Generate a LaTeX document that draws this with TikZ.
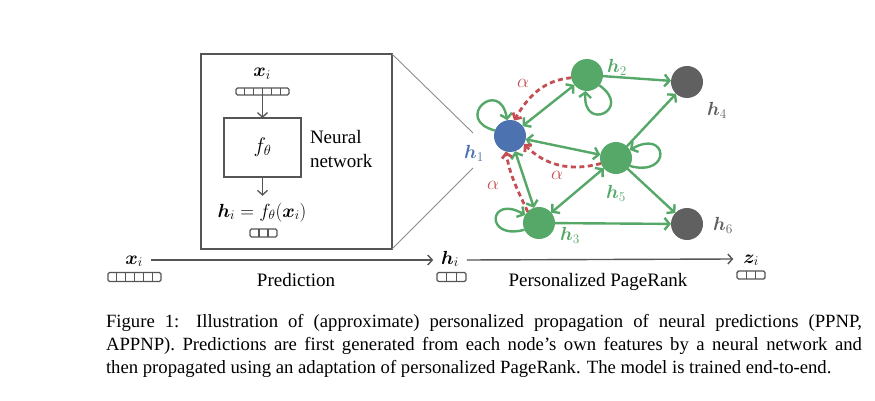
\RequirePackage{fix-cm}
\documentclass[tikz,border=0pt]{standalone}
\usepackage[no-math]{fontspec}
\setmainfont{Liberation Serif}
\usepackage{bm}
\usetikzlibrary{arrows.meta}

\definecolor{nodeblue}{HTML}{4C72B0}
\definecolor{nodegreen}{HTML}{55A868}
\definecolor{nodegray}{HTML}{606060}
\definecolor{alphared}{HTML}{C44E52}
\definecolor{framegray}{HTML}{555555}
\definecolor{zoomgray}{HTML}{8C8C8C}

% feature vector: name, centre, number of cells, width, height
\newcommand\featvec[5]{%
  \node[vecnode, minimum width=#4pt, minimum height=#5pt] (#1) at (#2) {};
  \pgfmathsetmacro\cellw{#4/#3}%
  \pgfmathtruncatemacro\ncut{#3-1}%
  \foreach \k in {1,...,\ncut}
    \draw[vecline] ([xshift=\k*\cellw pt]#1.south west) -- ([xshift=\k*\cellw pt]#1.north west);
}

\begin{document}
\begin{tikzpicture}[x=1pt,y=1pt,
  font=\fontsize{19}{21}\selectfont,
  every node/.style={inner sep=0pt, outer sep=0pt},
  gnode/.style={circle, minimum size=32pt, inner sep=0pt},
  gedge/.style={draw=nodegreen, line width=2.4pt, >={Straight Barb[length=5pt,width=12pt]}},
  aedge/.style={draw=alphared, line width=2.8pt, dash pattern=on 5pt off 3.5pt,
                >={Straight Barb[length=4.5pt,width=10pt]}},
  flow/.style={draw=framegray, line width=1.4pt, -{Straight Barb[length=4.5pt,width=10pt]}},
  frame/.style={draw=framegray, line width=1.6pt},
  zoomline/.style={draw=zoomgray, line width=0.9pt},
  vecnode/.style={rectangle, draw=framegray, line width=1.4pt, rounded corners=1.5pt, inner sep=0pt},
  vecline/.style={draw=framegray, line width=1.2pt},
  vlabel/.style={text height=13pt, text depth=5pt},
]
\useasboundingbox (0,0) rectangle (875,-401);

% ---------- neural network inset ----------
\node[frame, minimum width=191pt, minimum height=195pt] (inset) at (296.5,-151.5) {};
\node[anchor=base] (xin) at (262,-77) {$\bm{x}_i$};
\featvec{xinvec}{262.5,-91.5}{6}{53}{7}
\node[frame, minimum width=77pt, minimum height=59pt, font=\fontsize{21}{24}\selectfont] (fbox) at (262.5,-147.5) {$f_\theta$};
\node[anchor=base west, text width=90pt, align=left, font=\fontsize{19}{24}\selectfont] (nn) at (310,-143) {Neural\\network};
\node[anchor=base] (hf) at (262,-217) {$\bm{h}_i = f_\theta(\bm{x}_i)$};
\featvec{hfvec}{263.5,-233}{3}{27}{8}
\draw[flow, line width=1.3pt] (xinvec.south) -- (fbox.north);
\draw[flow, line width=1.3pt, shorten >=7pt] (fbox.south) -- (fbox.south |- hf.north);

% zoom lines towards node h1
\coordinate (zt) at (473,-133);
\coordinate (zb) at (473,-168);
\draw[zoomline] (inset.north east) -- (zt);
\draw[zoomline] (inset.south east) -- (zb);

% ---------- pipeline ----------
\node[vlabel, anchor=base] (xout) at (134,-264) {$\bm{x}_i$};
\featvec{xvec}{134.5,-277}{6}{53}{9}
\node[vlabel, anchor=base] (hout) at (450,-264) {$\bm{h}_i$};
\featvec{hvec}{451.5,-277}{3}{29}{9}
\node[vlabel, anchor=base] (zout) at (751,-263) {$\bm{z}_i$};
\featvec{zvec}{751,-275}{3}{28}{8}
\draw[flow] ([xshift=8pt]xout.east) -- ([xshift=-8pt]hout.west);
\draw[flow] ([xshift=8pt]hout.east) -- ([xshift=-10pt]zout.west);
\node[anchor=base] (pred) at (296,-286) {Prediction};
\node[anchor=base] (ppr) at (598,-286) {Personalized PageRank};

% ---------- graph ----------
\node[gnode, fill=nodeblue]  (h1) at (510,-136) {};
\node[gnode, fill=nodegreen] (h2) at (587,-75) {};
\node[gnode, fill=nodegray]  (h4) at (687,-82) {};
\node[gnode, fill=nodegreen] (h5) at (616,-158) {};
\node[gnode, fill=nodegreen] (h3) at (539,-223) {};
\node[gnode, fill=nodegray]  (h6) at (687,-224) {};

\node[text=nodeblue]  (l1) at (474,-153) {$\bm{h}_1$};
\node[text=nodegreen] (l2) at (617,-67)  {$\bm{h}_2$};
\node[text=nodegray]  (l4) at (717,-110) {$\bm{h}_4$};
\node[text=nodegreen] (l5) at (616,-193) {$\bm{h}_5$};
\node[text=nodegreen] (l3) at (570,-235) {$\bm{h}_3$};
\node[text=nodegray]  (l6) at (723,-225) {$\bm{h}_6$};

\draw[gedge,<->] (h1) -- (h2);
\draw[gedge,<->] (h1) -- (h5);
\draw[gedge,<->] (h1) -- (h3);
\draw[gedge,<->] (h3) -- (h5);
\draw[gedge,->] (h2) -- (h4);
\draw[gedge,->] (h5) -- (h4);
\draw[gedge,->] (h5) -- (h6);
\draw[gedge,->] (h3) -- (h6);

% self loops
\draw[gedge,->] (h1.160) to[out=165,in=100,distance=44pt] (h1.100);
\draw[gedge,->] (h2.-40) to[out=-35,in=-95,distance=42pt] (h2.-95);
\draw[gedge,->] (h5.-30) to[out=-15,in=30,distance=44pt] (h5.30);
\draw[gedge,->] (h3.205) to[out=195,in=150,distance=42pt] (h3.150);

% teleport (alpha) edges
\draw[aedge,->] (h2.190) to[out=185,in=60] (h1.75);
\draw[aedge,->] (h5.200) to[out=195,in=-45] (h1.-30);
\draw[aedge,->] (h3.135) to[out=115,in=-80] (h1.-105);
\node[text=alphared] (a1) at (523,-83)  {$\alpha$};
\node[text=alphared] (a2) at (557,-175) {$\alpha$};
\node[text=alphared] (a3) at (493,-185) {$\alpha$};

% ---------- caption ----------
\node[anchor=base west, text width=756pt, align=justify, font=\fontsize{18.7}{23}\selectfont] (cap) at (106,-327)
  {Figure 1: Illustration of (approximate) personalized propagation of neural predictions (PPNP,\linebreak
   APPNP). Predictions are first generated from each node's own features by a neural network and\linebreak
   then propagated using an adaptation of personalized PageRank. The model is trained end-to-end.};
\end{tikzpicture}
\end{document}
